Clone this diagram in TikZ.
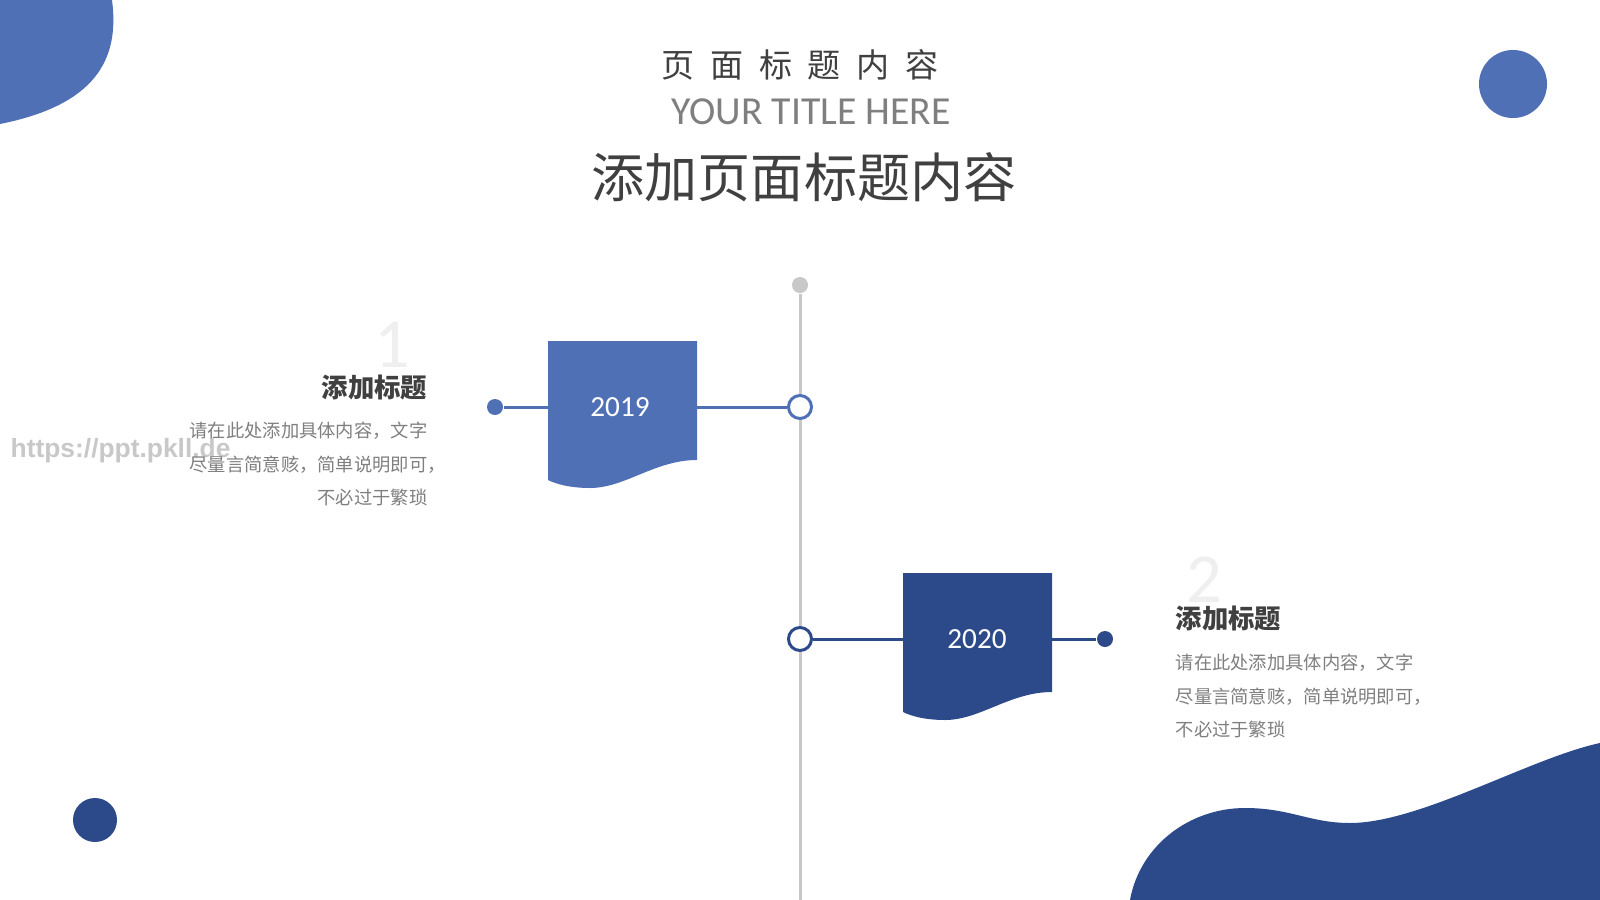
\documentclass[tikz,border=0pt]{standalone}
\usepackage{fontspec}
\setmainfont{Carlito}
\newfontfamily\cjk{Noto Sans CJK SC}
\newfontfamily\wmfont{Liberation Sans}
\definecolor{lblue}{HTML}{5070B6}
\definecolor{dblue}{HTML}{2C4A8A}
\definecolor{tdark}{HTML}{404040}
\definecolor{tgray}{HTML}{7F7F7F}
\definecolor{lgray}{HTML}{C8C8C8}
\definecolor{faint}{HTML}{EFEFEF}
\tikzset{
  ring/.style={circle, draw=#1, line width=0.85pt, fill=white, minimum size=0.23cm, inner sep=0pt},
  dot/.style={circle, fill=#1, minimum size=0.16cm, inner sep=0pt},
  link/.style={draw=#1, line width=0.85pt},
  year/.style={text=white, font=\fontsize{8.3pt}{10pt}\selectfont, inner sep=0pt},
  head/.style={text=tdark, font=\cjk\bfseries\fontsize{7.5pt}{9pt}\selectfont, inner sep=0pt},
  body/.style={text=tgray, font=\cjk\fontsize{5.2pt}{9.55pt}\selectfont, inner sep=0pt},
  bignum/.style={text=faint, font=\fontsize{20pt}{22pt}\selectfont, inner sep=0pt}
}
\begin{document}
\begin{tikzpicture}[x=0.01cm,y=-0.01cm]
\useasboundingbox (0,0) rectangle (1600,900);
\fill[white] (0,0) rectangle (1600,900);
% decorations
\fill[lblue] (0,0) -- (112,0) .. controls (120,60) and (95,105) .. (0,124) -- cycle;
\fill[lblue] (1513,84) circle (0.34cm);
\fill[dblue] (95,820) circle (0.22cm);
\fill[dblue] (1130,900) .. controls (1140,845) and (1190,808) .. (1245,808)
  .. controls (1290,808) and (1310,823) .. (1350,823)
  .. controls (1420,823) and (1530,758) .. (1600,743) -- (1600,900) -- cycle;
% titles
\node[text=tdark, font=\cjk\fontsize{9.4pt}{11pt}\selectfont, inner sep=0pt] (t1) at (800,65)
  {页\hspace{0.156cm}面\hspace{0.156cm}标\hspace{0.156cm}题\hspace{0.156cm}内\hspace{0.156cm}容};
\node[text=tgray, font=\fontsize{11.3pt}{13pt}\selectfont, inner sep=0pt] (t2) at (811,112) {YOUR TITLE HERE};
\node[text=tdark, font=\cjk\fontsize{15.1pt}{17pt}\selectfont, inner sep=0pt] (t3) at (804,177) {添加页面标题内容};
% watermark
\node[text=lgray, font=\wmfont\bfseries\fontsize{7.5pt}{9pt}\selectfont, inner sep=0pt, anchor=base west] (wm) at (10,457) {https://ppt.pkll.de};
% timeline nodes
\node[dot=lgray] (g) at (800,285) {};
\coordinate (bot) at (800,900);
\node[ring=lblue] (c1) at (800,407) {};
\node[ring=dblue] (c2) at (800,639) {};
\node[dot=lblue] (d1) at (495,407) {};
\node[dot=dblue] (d2) at (1105,639) {};
\draw[link=lgray] (g) -- (c1);
\draw[link=lgray] (c1) -- (c2);
\draw[link=lgray] (c2) -- (bot);
\draw[link=lblue] (d1) -- (c1);
\draw[link=dblue] (c2) -- (d2);
% boxes
\fill[lblue] (548,341) -- (697,341) -- (697,460) .. controls (655,460) and (625,488) .. (590,488) .. controls (570,488) and (556,484) .. (548,480) -- cycle;
\begin{scope}[shift={(355,232)}]
\fill[dblue] (548,341) -- (697,341) -- (697,460) .. controls (655,460) and (625,488) .. (590,488) .. controls (570,488) and (556,484) .. (548,480) -- cycle;
\end{scope}
\node[year] (y1) at (620,407) {2019};
\node[year] (y2) at (977,639) {2020};
% text block 1
\node[bignum] (n1) at (392,345) {1};
\node[head, anchor=east] (h1) at (428,387) {添加标题};
\node[body, anchor=east, align=right] (b1) at (428,464) {请在此处添加具体内容，文字\\尽量言简意赅，简单说明即可\rlap{，}\\不必过于繁琐};
% text block 2
\node[bignum] (n2) at (1204,580) {2};
\node[head, anchor=west] (h2) at (1175,618) {添加标题};
\node[body, anchor=west, align=left] (b2) at (1175,696) {请在此处添加具体内容，文字\\尽量言简意赅，简单说明即可，\\不必过于繁琐};
\end{tikzpicture}
\end{document}
